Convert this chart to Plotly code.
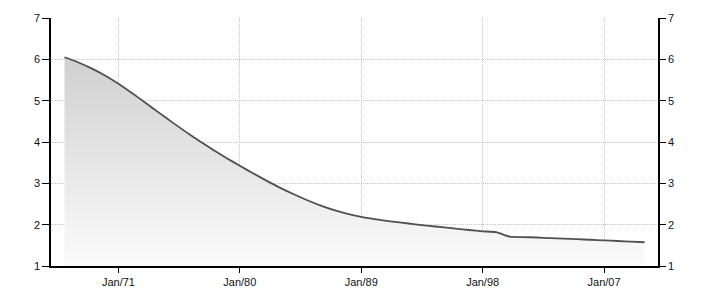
import plotly.graph_objects as go

years = list(range(1967, 2011))
values = [6.05, 5.93, 5.78, 5.61, 5.41, 5.185, 4.95, 4.71, 4.475, 4.245,
          4.025, 3.815, 3.615, 3.425, 3.24, 3.06, 2.89, 2.735, 2.59, 2.46,
          2.35, 2.26, 2.19, 2.135, 2.087, 2.047, 2.009, 1.973, 1.938, 1.904,
          1.871, 1.839, 1.82, 1.71, 1.70, 1.69, 1.675, 1.662, 1.648, 1.635,
          1.62, 1.605, 1.59, 1.575]
dates = [f"{y}-01-01" for y in years]

y_ticks = [1, 2, 3, 4, 5, 6, 7]

fig = go.Figure()
fig.add_trace(go.Scatter(
    x=dates, y=values, mode="lines",
    line=dict(color="#505050", width=1.8, shape="spline", smoothing=0.5),
    fill="tozeroy",
    fillgradient=dict(type="vertical", start=1, stop=6.05,
                      colorscale=[[0, "#fcfcfc"], [1, "#d0d0d0"]]),
    hoverinfo="skip", showlegend=False,
))
fig.add_trace(go.Scatter(
    x=dates, y=values, mode="lines", yaxis="y2",
    line=dict(color="rgba(0,0,0,0)", width=0),
    hoverinfo="skip", showlegend=False,
))

font = dict(family="Liberation Sans, Arial, sans-serif", size=11, color="#111111")
grid = dict(showgrid=True, gridcolor="#c4c4c4", griddash="1px,1px", gridwidth=1)

fig.update_layout(
    width=710, height=300,
    margin=dict(l=51, r=52, t=17, b=32),
    paper_bgcolor="white", plot_bgcolor="white",
    font=font,
    xaxis=dict(
        type="date", range=["1966-01-01", "2011-01-01"],
        tick0="1971-01-01", dtick="M108", tickformat="%b/%y",
        showline=True, linecolor="black", linewidth=1.5,
        ticks="outside", ticklen=5, tickcolor="black",
        zeroline=False, **grid,
    ),
    yaxis=dict(
        range=[1, 7], tickvals=y_ticks,
        showline=True, linecolor="black", linewidth=1.5,
        ticks="outside", ticklen=7, tickcolor="black",
        zeroline=False, **grid,
    ),
    yaxis2=dict(
        range=[1, 7], tickvals=y_ticks, overlaying="y", side="right",
        showline=True, linecolor="black", linewidth=1.5,
        ticks="outside", ticklen=6, tickcolor="black",
        showgrid=False, zeroline=False,
    ),
)

fig.write_html("out.html")
